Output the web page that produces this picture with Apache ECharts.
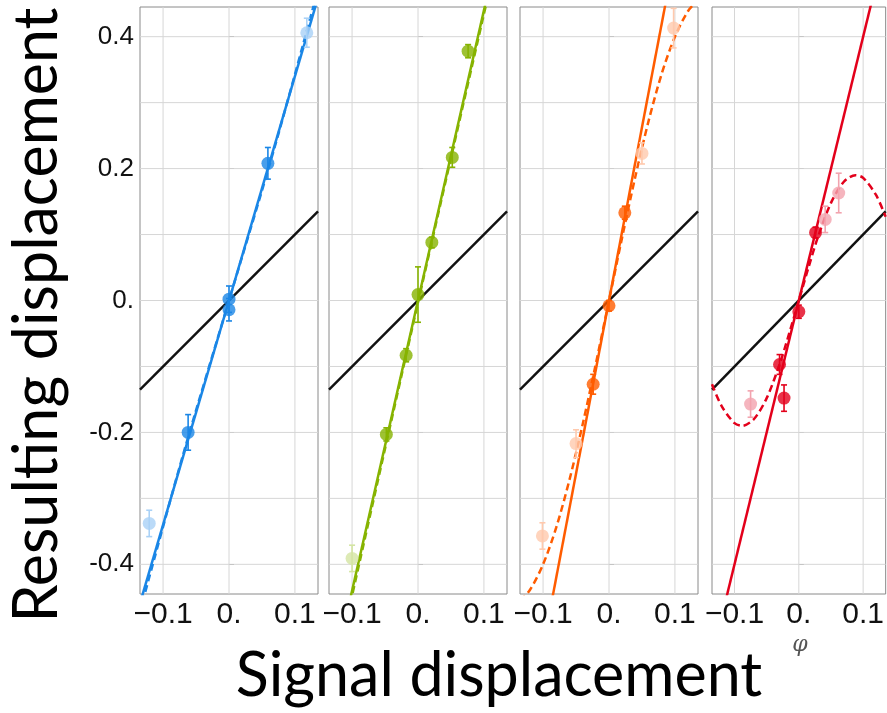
<!DOCTYPE html>
<html>
<head>
<meta charset="utf-8">
<title>Signal vs resulting displacement</title>
<script src="https://cdn.jsdelivr.net/npm/echarts@6/dist/echarts.min.js"></script>
<style>
  html, body { margin: 0; padding: 0; background: #fff; }
  #chart { width: 887px; height: 713px; }
</style>
</head>
<body>
<div id="chart"></div>
<script>
// ---- axis ranges and tick labels ----
const xRange = [-0.135, 0.135];
const yRange = [-0.445, 0.445];
const xTicks = [-0.1, 0, 0.1];
const yTicks = [-0.4, -0.2, 0, 0.2, 0.4];
const yGridValues = [-0.4, -0.3, -0.2, -0.1, 0, 0.1, 0.2, 0.3, 0.4];

// reference line: resulting = signal
const identityLine = [[-0.135, -0.135], [0.135, 0.135]];

// ---- panel 1 (blue) ----
const blueX = [-0.121, -0.062, 0.000, 0.000, 0.059, 0.118];
const blueY = [-0.338, -0.200, 0.002, -0.014, 0.208, 0.406];
const blueErr = [0.020, 0.027, 0.020, 0.017, 0.024, 0.022];
const blueFaded = [1, 0, 0, 0, 0, 1];
const blueLinearFit = [[-0.14, -0.476], [0.14, 0.476]];
const blueCurveFit = [[-0.14, -0.49], [-0.07, -0.235], [0, 0], [0.07, 0.235], [0.14, 0.49]];

// ---- panel 2 (green) ----
const greenX = [-0.100, -0.048, -0.018, 0.000, 0.021, 0.052, 0.076];
const greenY = [-0.391, -0.203, -0.083, 0.009, 0.088, 0.217, 0.378];
const greenErr = [0.020, 0.010, 0.010, 0.042, 0.008, 0.015, 0.010];
const greenFaded = [1, 0, 0, 0, 0, 0, 0];
const greenLinearFit = [[-0.11, -0.484], [0.11, 0.484]];
const greenCurveFit = [[-0.11, -0.492], [0, -0.003], [0.11, 0.478]];

// ---- panel 3 (orange) ----
const orangeX = [-0.101, -0.050, -0.024, 0.000, 0.024, 0.050, 0.098];
const orangeY = [-0.357, -0.217, -0.127, -0.008, 0.133, 0.223, 0.413];
const orangeErr = [0.020, 0.021, 0.015, 0.008, 0.010, 0.016, 0.030];
const orangeFaded = [1, 1, 0, 0, 0, 1, 1];
const orangeLinearFit = [[-0.09, -0.4725], [0.09, 0.4725]];
const orangeCurveX = [-0.135, -0.12, -0.10, -0.08, -0.06, -0.04, -0.02, 0, 0.02, 0.04, 0.06, 0.08, 0.10, 0.12, 0.135];
const orangeCurveY = [-0.455, -0.439, -0.400, -0.344, -0.272, -0.188, -0.096, 0, 0.096, 0.188, 0.272, 0.344, 0.400, 0.439, 0.455];

// ---- panel 4 (red) ----
const redX = [-0.075, -0.030, -0.023, 0.000, 0.026, 0.041, 0.062];
const redY = [-0.157, -0.097, -0.148, -0.017, 0.103, 0.123, 0.163];
const redErr = [0.020, 0.015, 0.020, 0.010, 0.008, 0.020, 0.030];
const redFaded = [1, 0, 0, 0, 0, 1, 1];
const redLinearFit = [[-0.115, -0.46], [0.115, 0.46]];
const redCurveX = [-0.135, -0.12, -0.10, -0.088, -0.07, -0.05, -0.03, -0.015, 0, 0.015, 0.03, 0.05, 0.07, 0.088, 0.10, 0.12, 0.135];
const redCurveY = [-0.127, -0.160, -0.186, -0.190, -0.180, -0.148, -0.097, -0.050, 0, 0.050, 0.097, 0.148, 0.180, 0.190, 0.186, 0.160, 0.127];

const zip = (xs, ys) => xs.map((x, i) => [x, ys[i]]);

const panels = [
  { color: '#1a86e6', faded: '#a9d1f6', x: blueX, y: blueY, err: blueErr, fadedFlags: blueFaded, linear: blueLinearFit, curve: blueCurveFit },
  { color: '#86b300', faded: '#d4e5a3', x: greenX, y: greenY, err: greenErr, fadedFlags: greenFaded, linear: greenLinearFit, curve: greenCurveFit },
  { color: '#ff5c00', faded: '#ffc9ad', x: orangeX, y: orangeY, err: orangeErr, fadedFlags: orangeFaded, linear: orangeLinearFit, curve: zip(orangeCurveX, orangeCurveY) },
  { color: '#e3001b', faded: '#f2a3ae', x: redX, y: redY, err: redErr, fadedFlags: redFaded, linear: redLinearFit, curve: zip(redCurveX, redCurveY) }
];

const panelLefts = [140, 329, 520, 712];
const panelWidth = 178;
const panelTop = 7;
const panelHeight = 587;

const grids = [], xAxes = [], yAxes = [], series = [];

function fmtX(v) {
  if (Math.abs(v) < 1e-9) return '0.';
  return v < 0 ? '\u2212' + Math.abs(v).toFixed(1) : v.toFixed(1);
}
function fmtY(v) {
  if (Math.abs(v) < 1e-9) return '0.';
  return v.toFixed(1);
}

panels.forEach((p, i) => {
  grids.push({
    left: panelLefts[i], top: panelTop, width: panelWidth, height: panelHeight,
    show: true, borderColor: '#8a8a8a', borderWidth: 1, backgroundColor: 'transparent'
  });
  xAxes.push({
    type: 'value', gridIndex: i, min: xRange[0], max: xRange[1],
    axisLine: { show: false }, splitLine: { show: false },
    axisTick: { show: false },
    axisLabel: {
      show: true, customValues: xTicks, formatter: fmtX, margin: 6,
      fontFamily: 'Liberation Sans', fontSize: 30, color: '#111'
    }
  });
  yAxes.push({
    type: 'value', gridIndex: i, min: yRange[0], max: yRange[1],
    axisLine: { show: false }, splitLine: { show: false },
    axisTick: { show: true, inside: true, length: 5, customValues: yTicks, lineStyle: { color: '#777', width: 1 } },
    axisLabel: {
      show: i === 0, customValues: yTicks, formatter: fmtY, margin: 6,
      fontFamily: 'Liberation Sans', fontSize: 26, color: '#111'
    }
  });

  // background grid lines
  series.push({
    type: 'custom', xAxisIndex: i, yAxisIndex: i, z: 1, silent: true, clip: true,
    data: yGridValues.map(v => [0, v]),
    renderItem: (params, api) => {
      const v = api.value(1);
      const a = api.coord([xRange[0], v]);
      const b = api.coord([xRange[1], v]);
      return { type: 'line', shape: { x1: a[0], y1: a[1], x2: b[0], y2: b[1] }, style: { stroke: '#d6d6d6', lineWidth: 1 } };
    }
  });
  series.push({
    type: 'custom', xAxisIndex: i, yAxisIndex: i, z: 1, silent: true, clip: true,
    data: xTicks.map(v => [v, 0]),
    renderItem: (params, api) => {
      const v = api.value(0);
      const a = api.coord([v, yRange[0]]);
      const b = api.coord([v, yRange[1]]);
      return { type: 'line', shape: { x1: a[0], y1: a[1], x2: b[0], y2: b[1] }, style: { stroke: '#d6d6d6', lineWidth: 1 } };
    }
  });

  // identity line
  series.push({
    type: 'line', xAxisIndex: i, yAxisIndex: i, z: 2, silent: true, clip: true,
    data: identityLine, showSymbol: false, symbol: 'none',
    lineStyle: { color: '#111', width: 2.5 }
  });

  // linear fit (solid)
  series.push({
    type: 'line', xAxisIndex: i, yAxisIndex: i, z: 3, silent: true, clip: true,
    data: p.linear, showSymbol: false, symbol: 'none',
    lineStyle: { color: p.color, width: 2.5 }
  });
  // nonlinear fit (dashed)
  series.push({
    type: 'line', xAxisIndex: i, yAxisIndex: i, z: 3, silent: true, clip: true,
    data: p.curve, showSymbol: false, symbol: 'none', smooth: 0.3,
    lineStyle: { color: p.color, width: 2.5, type: [7, 4] }
  });

  // error bars
  const pts = p.x.map((x, k) => [x, p.y[k], p.err[k], p.fadedFlags[k]]);
  series.push({
    type: 'custom', xAxisIndex: i, yAxisIndex: i, z: 4, silent: true, clip: true,
    data: pts,
    renderItem: (params, api) => {
      const x = api.value(0), y = api.value(1), e = api.value(2), f = api.value(3);
      const top = api.coord([x, y + e]);
      const bot = api.coord([x, y - e]);
      const col = f ? p.faded : p.color;
      const cap = 3;
      const st = { stroke: col, lineWidth: 1.6 };
      return {
        type: 'group',
        children: [
          { type: 'line', shape: { x1: top[0], y1: top[1], x2: bot[0], y2: bot[1] }, style: st },
          { type: 'line', shape: { x1: top[0] - cap, y1: top[1], x2: top[0] + cap, y2: top[1] }, style: st },
          { type: 'line', shape: { x1: bot[0] - cap, y1: bot[1], x2: bot[0] + cap, y2: bot[1] }, style: st }
        ]
      };
    }
  });

  // data points
  series.push({
    type: 'scatter', xAxisIndex: i, yAxisIndex: i, z: 5, silent: true, clip: true,
    symbol: 'circle', symbolSize: 13,
    data: pts.map(d => ({ value: [d[0], d[1]], itemStyle: { color: d[3] ? p.faded : p.color } }))
  });
});

const chart = echarts.init(document.getElementById('chart'), null, { renderer: 'canvas' });
chart.setOption({
  animation: false,
  backgroundColor: '#fff',
  grid: grids,
  xAxis: xAxes,
  yAxis: yAxes,
  series: series,
  graphic: [
    {
      type: 'text', x: 499, y: 707, z: 10,
      style: {
        text: 'Signal displacement', fill: '#000',
        font: '61px Lato', textAlign: 'center', textVerticalAlign: 'bottom'
      }
    },
    {
      type: 'text', x: 68, y: 315, rotation: Math.PI / 2, z: 10,
      style: {
        text: 'Resulting displacement', fill: '#000',
        font: '61px Lato', textAlign: 'center', textVerticalAlign: 'bottom'
      }
    },
    {
      type: 'text', x: 800, y: 645, z: 10,
      style: {
        text: '\u03c6', fill: '#555',
        font: 'italic 22px "DejaVu Serif"', textAlign: 'center', textVerticalAlign: 'middle'
      }
    }
  ]
});
</script>
</body>
</html>
